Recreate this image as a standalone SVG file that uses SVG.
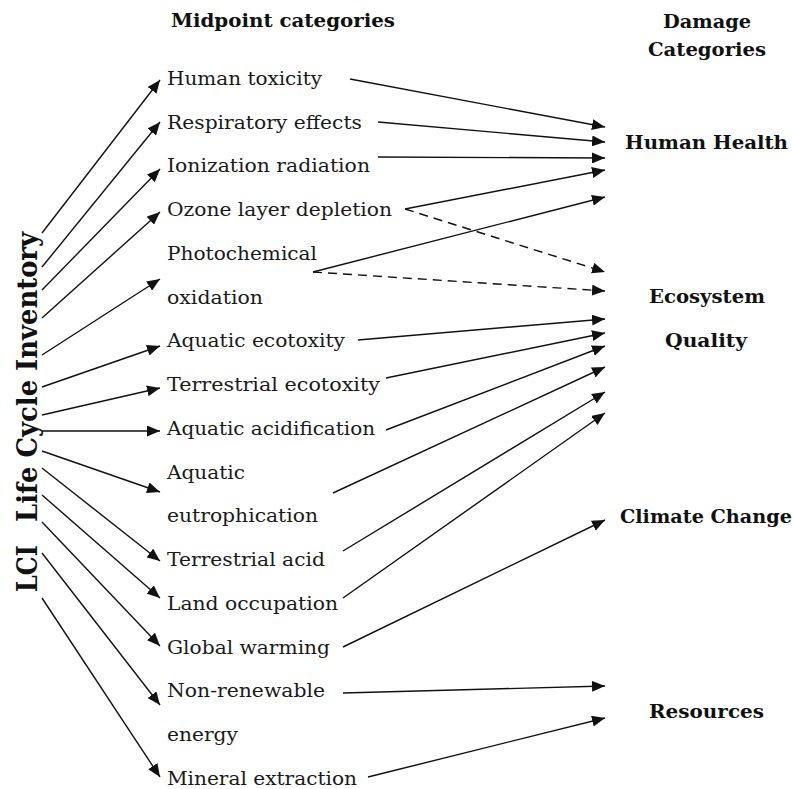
<svg xmlns="http://www.w3.org/2000/svg" width="793" height="789" viewBox="0 0 793 789">
<style>
  .lbl { font-family: "DejaVu Serif", "Liberation Serif", serif; font-size: 18px; fill: #1a1a1a; }
  .hdr { font-family: "DejaVu Serif", "Liberation Serif", serif; font-size: 18px; font-weight: bold; fill: #111; }
  .lci { font-family: "DejaVu Serif", "Liberation Serif", serif; font-size: 28px; font-weight: bold; fill: #111; }
  .c { stroke: #111; stroke-width: 1.4; fill: none; marker-end: url(#ah); }
  .d { stroke-dasharray: 9 6; }
</style>
<defs>
  <marker id="ah" markerUnits="userSpaceOnUse" markerWidth="13" markerHeight="11" refX="13" refY="5.5" orient="auto">
    <path d="M0,0 L13,5.5 L0,11 z" fill="#111"/>
  </marker>
</defs>
<rect width="793" height="789" fill="#fff"/>

<g id="headers">
  <text class="hdr" x="171" y="27" textLength="224" lengthAdjust="spacingAndGlyphs">Midpoint categories</text>
  <text class="hdr" x="663" y="28" textLength="88" lengthAdjust="spacingAndGlyphs">Damage</text>
  <text class="hdr" x="648" y="56" textLength="118" lengthAdjust="spacingAndGlyphs">Categories</text>
</g>

<g id="lci">
  <text class="lci" transform="translate(37,592) rotate(-90)" x="0" y="0" textLength="47" lengthAdjust="spacingAndGlyphs">LCI</text>
  <text class="lci" transform="translate(37,522) rotate(-90)" x="0" y="0" textLength="290" lengthAdjust="spacingAndGlyphs">Life Cycle Inventory</text>
</g>

<g id="mid-human-toxicity"><text class="lbl" x="167" y="85" textLength="155" lengthAdjust="spacingAndGlyphs">Human toxicity</text></g>
<g id="mid-respiratory"><text class="lbl" x="167" y="129" textLength="195" lengthAdjust="spacingAndGlyphs">Respiratory effects</text></g>
<g id="mid-ionization"><text class="lbl" x="167" y="172" textLength="203" lengthAdjust="spacingAndGlyphs">Ionization radiation</text></g>
<g id="mid-ozone"><text class="lbl" x="167" y="216" textLength="225" lengthAdjust="spacingAndGlyphs">Ozone layer depletion</text></g>
<g id="mid-photochemical">
  <text class="lbl" x="167" y="260" textLength="150" lengthAdjust="spacingAndGlyphs">Photochemical</text>
  <text class="lbl" x="167" y="304" textLength="96" lengthAdjust="spacingAndGlyphs">oxidation</text>
</g>
<g id="mid-aquatic-ecotoxity"><text class="lbl" x="167" y="347" textLength="178" lengthAdjust="spacingAndGlyphs">Aquatic ecotoxity</text></g>
<g id="mid-terrestrial-ecotoxity"><text class="lbl" x="167" y="391" textLength="213" lengthAdjust="spacingAndGlyphs">Terrestrial ecotoxity</text></g>
<g id="mid-aquatic-acidification"><text class="lbl" x="167" y="435" textLength="208" lengthAdjust="spacingAndGlyphs">Aquatic acidification</text></g>
<g id="mid-aquatic-eutrophication">
  <text class="lbl" x="167" y="479" textLength="78" lengthAdjust="spacingAndGlyphs">Aquatic</text>
  <text class="lbl" x="167" y="522" textLength="151" lengthAdjust="spacingAndGlyphs">eutrophication</text>
</g>
<g id="mid-terrestrial-acid"><text class="lbl" x="167" y="566" textLength="158" lengthAdjust="spacingAndGlyphs">Terrestrial acid</text></g>
<g id="mid-land-occupation"><text class="lbl" x="167" y="610" textLength="171" lengthAdjust="spacingAndGlyphs">Land occupation</text></g>
<g id="mid-global-warming"><text class="lbl" x="167" y="654" textLength="163" lengthAdjust="spacingAndGlyphs">Global warming</text></g>
<g id="mid-non-renewable">
  <text class="lbl" x="167" y="697" textLength="158" lengthAdjust="spacingAndGlyphs">Non-renewable</text>
  <text class="lbl" x="167" y="741" textLength="71" lengthAdjust="spacingAndGlyphs">energy</text>
</g>
<g id="mid-mineral"><text class="lbl" x="167" y="785" textLength="190" lengthAdjust="spacingAndGlyphs">Mineral extraction</text></g>

<g id="dmg-human-health"><text class="hdr" x="625" y="149" textLength="163" lengthAdjust="spacingAndGlyphs">Human Health</text></g>
<g id="dmg-ecosystem">
  <text class="hdr" x="649" y="303" textLength="116" lengthAdjust="spacingAndGlyphs">Ecosystem</text>
  <text class="hdr" x="665" y="347" textLength="82" lengthAdjust="spacingAndGlyphs">Quality</text>
</g>
<g id="dmg-climate"><text class="hdr" x="620" y="523" textLength="172" lengthAdjust="spacingAndGlyphs">Climate Change</text></g>
<g id="dmg-resources"><text class="hdr" x="649" y="718" textLength="115" lengthAdjust="spacingAndGlyphs">Resources</text></g>

<g id="connectors">
  <line class="c" x1="42" y1="233" x2="160" y2="80"/>
  <line class="c" x1="42" y1="267" x2="160" y2="122"/>
  <line class="c" x1="42" y1="290" x2="160" y2="169"/>
  <line class="c" x1="42" y1="318" x2="160" y2="212"/>
  <line class="c" x1="42" y1="355" x2="160" y2="279"/>
  <line class="c" x1="42" y1="387" x2="160" y2="346"/>
  <line class="c" x1="42" y1="415" x2="160" y2="388"/>
  <line class="c" x1="42" y1="431" x2="160" y2="431"/>
  <line class="c" x1="42" y1="451" x2="160" y2="492"/>
  <line class="c" x1="42" y1="468" x2="160" y2="561"/>
  <line class="c" x1="42" y1="495" x2="160" y2="598"/>
  <line class="c" x1="42" y1="522" x2="160" y2="646"/>
  <line class="c" x1="42" y1="553" x2="160" y2="705"/>
  <line class="c" x1="42" y1="598" x2="160" y2="777"/>

  <line class="c" x1="350" y1="79" x2="605" y2="127"/>
  <line class="c" x1="378" y1="122" x2="605" y2="142"/>
  <line class="c" x1="378" y1="157" x2="605" y2="158"/>
  <line class="c" x1="405" y1="209" x2="605" y2="170"/>
  <line class="c" x1="313" y1="272" x2="605" y2="197"/>
  <line class="c d" x1="405" y1="209" x2="605" y2="272"/>
  <line class="c d" x1="313" y1="272" x2="605" y2="291"/>
  <line class="c" x1="358" y1="340" x2="605" y2="319"/>
  <line class="c" x1="386" y1="378" x2="605" y2="333"/>
  <line class="c" x1="386" y1="430" x2="605" y2="346"/>
  <line class="c" x1="333" y1="493" x2="605" y2="367"/>
  <line class="c" x1="343" y1="551" x2="605" y2="392"/>
  <line class="c" x1="343" y1="598" x2="605" y2="413"/>
  <line class="c" x1="343" y1="647" x2="605" y2="520"/>
  <line class="c" x1="343" y1="693" x2="605" y2="686"/>
  <line class="c" x1="368" y1="777" x2="605" y2="718"/>
</g>
</svg>
